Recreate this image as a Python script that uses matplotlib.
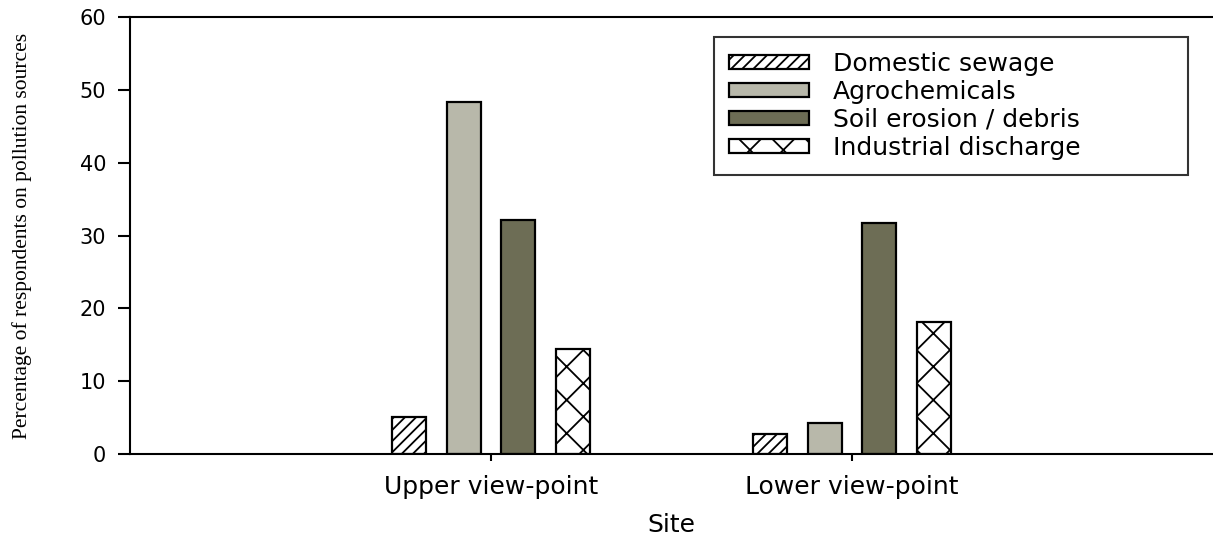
from matplotlib import pyplot as plt
import numpy as np

sites = ['Upper view-point', 'Lower view-point']
sources = ['Domestic sewage', 'Agrochemicals', 'Soil erosion / debris', 'Industrial discharge']
domestic = [5.1, 2.8]
agro = [48.3, 4.2]
soil = [32.2, 31.8]
industrial = [14.4, 18.1]

values = [domestic, agro, soil, industrial]
colors = ['white', '#b8b8aa', '#6d6d55', 'white']
hatches = ['///', None, None, 'x']

plt.rcParams['hatch.linewidth'] = 1.3
plt.rcParams['font.family'] = 'DejaVu Sans'

fig = plt.figure(figsize=(12.13, 5.38), dpi=100)
ax = fig.add_axes([0.107, 0.156, 0.893, 0.812])

x = np.arange(len(sites))
width = 0.094
step = 0.151
for i, (vals, name) in enumerate(zip(values, sources)):
    offset = (i - 1.5) * step
    ax.bar(x + offset, vals, width, color=colors[i], edgecolor='black',
           linewidth=1.6, hatch=hatches[i], label=name)

ax.set_xlim(-1, 2)
ax.set_ylim(0, 60)
ax.set_xticks(x)
ax.set_xticklabels(sites, fontsize=18)
ax.set_yticks(np.arange(0, 61, 10))
ax.tick_params(axis='y', labelsize=15, length=9, width=1.5, pad=8)
ax.tick_params(axis='x', length=5, width=1.5, pad=10)
for s in ['left', 'bottom', 'top']:
    ax.spines[s].set_linewidth(1.5)
ax.spines['right'].set_visible(False)

ax.set_xlabel('Site', fontsize=18, labelpad=10)
ax.set_ylabel('Percentage of respondents on pollution sources',
              family='Liberation Serif', fontsize=15.5, labelpad=34)

leg = ax.legend(loc='upper left',
                bbox_to_anchor=(714 / 1213, 1 - 172 / 538, 474 / 1213, 135 / 538),
                bbox_transform=fig.transFigure, mode='expand', fontsize=18,
                frameon=True, fancybox=False, edgecolor='black', handlelength=3.2,
                handleheight=0.48, handletextpad=0.95, labelspacing=0.16,
                borderpad=0.6, borderaxespad=0)
leg.get_frame().set_linewidth(1.5)

fig.savefig('out.png', dpi=100)
